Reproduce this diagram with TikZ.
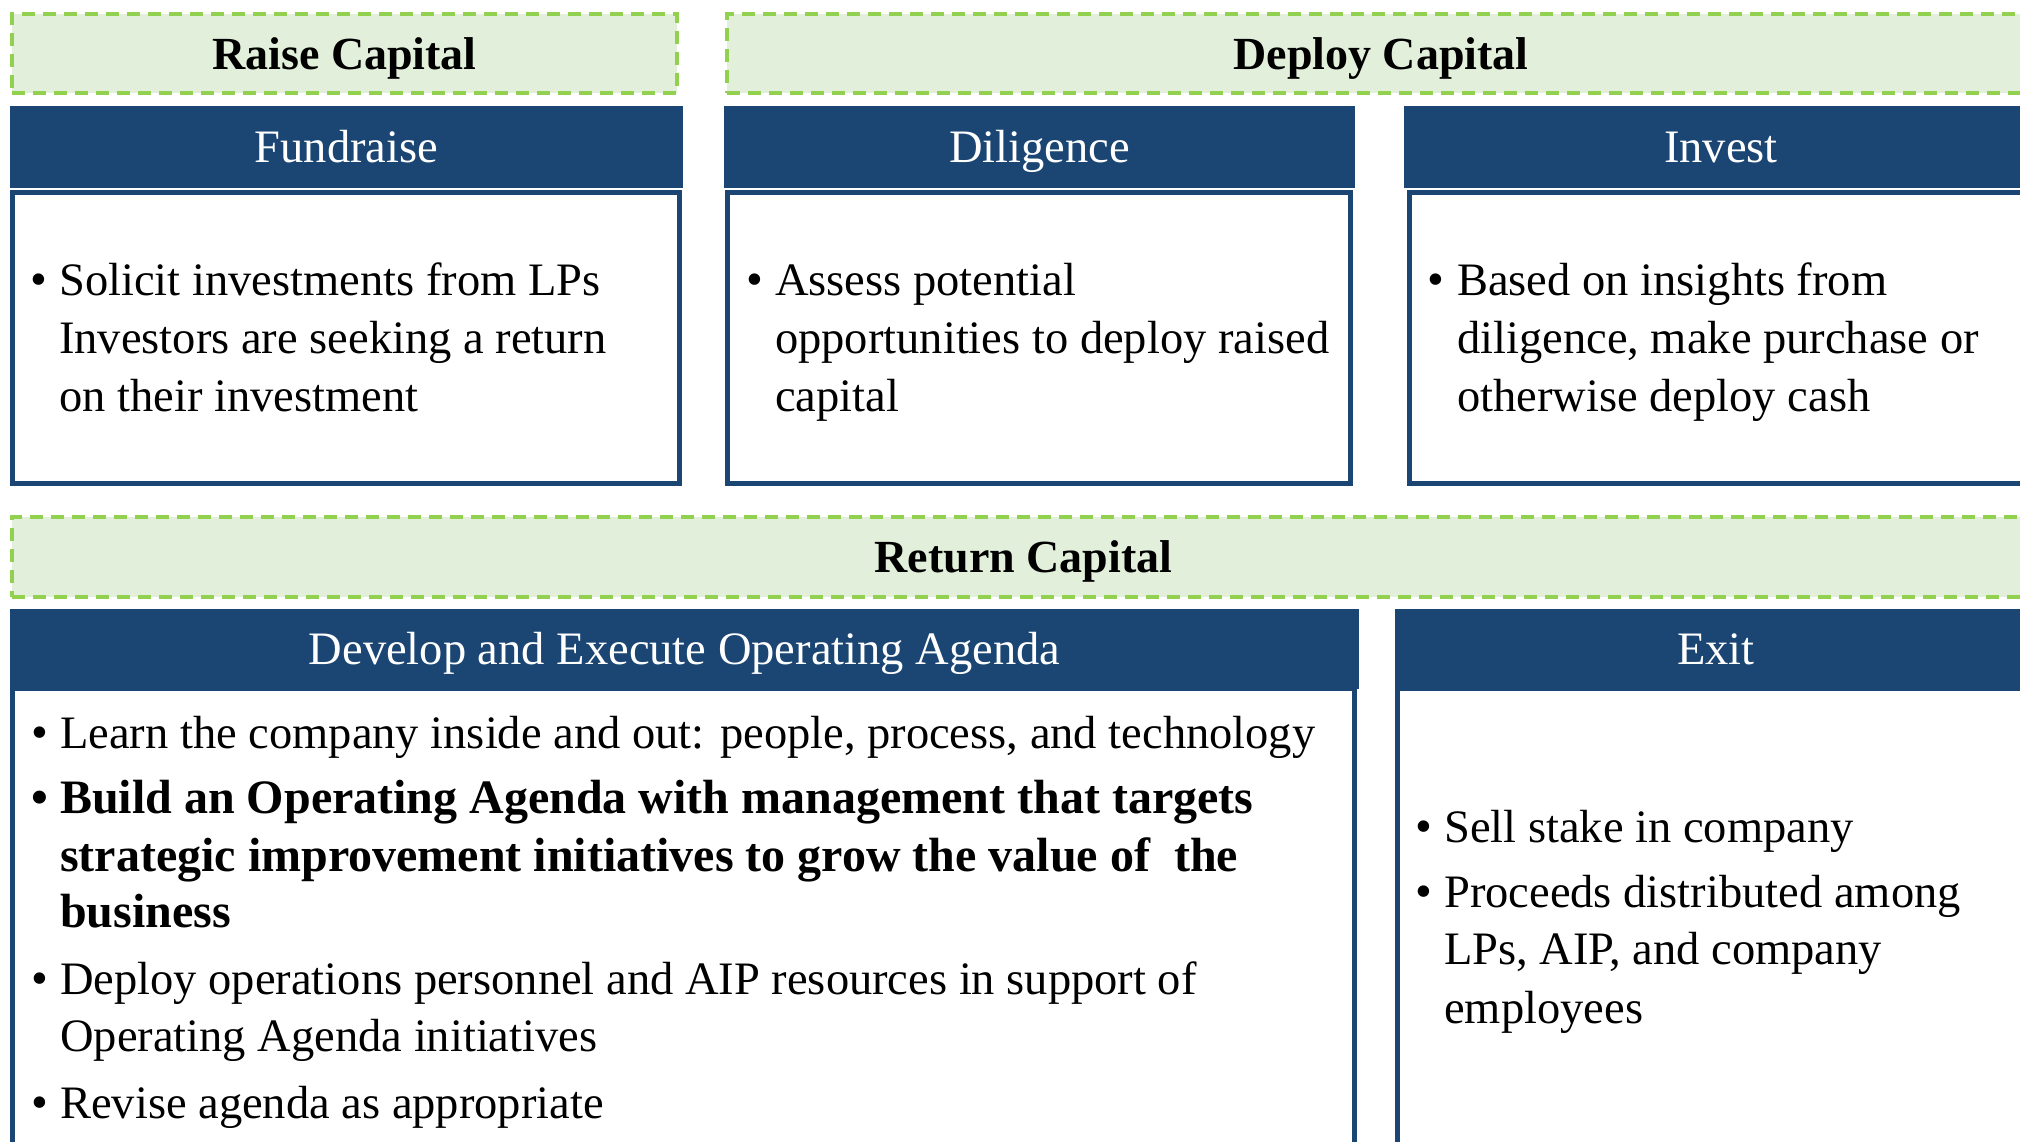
\documentclass[tikz,border=0pt]{standalone}
\usepackage{fontspec}
\setmainfont{Liberation Serif}
\definecolor{navy}{HTML}{1B4674}
\definecolor{leaf}{HTML}{92D050}
\definecolor{mint}{HTML}{E2EFDA}
\newcommand\bodysize{\fontsize{46.5}{58}\selectfont}
\newcommand\strongsize{\fontsize{48}{58}\selectfont}
\tikzset{
  stage/.style={draw=leaf, line width=4pt, dash pattern=on 13pt off 8pt, fill=mint, inner sep=0pt},
  stagetxt/.style={anchor=base, inner sep=0pt, font=\fontsize{46}{58}\selectfont\bfseries},
  headbar/.style={fill=navy, inner sep=0pt},
  hdtxt/.style={anchor=base, inner sep=0pt, text=white, font=\bodysize},
  panel/.style={draw=navy, line width=5pt, fill=white, inner sep=0pt},
  bodytxt/.style={anchor=base west, inner sep=0pt, font=\bodysize},
  boldtxt/.style={bodytxt, font=\strongsize\bfseries},
  bul/.style={anchor=base, inner sep=0pt, font=\fontsize{48}{58}\selectfont},
  boldbul/.style={bul, font=\fontsize{48}{58}\selectfont\bfseries}
}
\begin{document}
\begin{tikzpicture}[x=1pt,y=-1pt]
\useasboundingbox (0,0) rectangle (2020,1141);
\clip (0,0) rectangle (2020,1141);
\fill[white] (0,0) rectangle (2020,1141);

% stage banners
\node[stage, minimum width=665pt, minimum height=79pt] (raise) at (344.5,53) {};
\node[stagetxt] (raiset) at (344.5,69) {Raise Capital};
\node[stage, minimum width=1308pt, minimum height=79pt] (deploy) at (1381,53) {};
\node[stagetxt] (deployt) at (1381,69) {Deploy Capital};
\node[stage, minimum width=2023pt, minimum height=80pt] (return) at (1023.5,557) {};
\node[stagetxt] (returnt) at (1023.5,572) {Return Capital};

% content panels
\node[panel, minimum width=667pt, minimum height=291pt] (fundp) at (346,338) {};
\node[panel, minimum width=623pt, minimum height=291pt] (dilp) at (1039,338) {};
\node[panel, minimum width=628pt, minimum height=291pt] (invp) at (1723.5,338) {};
\node[panel, minimum width=1342pt, minimum height=509pt] (devp) at (683.5,943) {};
\node[panel, minimum width=640pt, minimum height=509pt] (exitp) at (1717.5,943) {};

% step headers
\node[headbar, minimum width=673pt, minimum height=82pt] (fund) at (346.5,147) {};
\node[hdtxt] (fundt) at (346.5,162) {Fundraise};
\node[headbar, minimum width=631pt, minimum height=82pt] (dil) at (1039.5,147) {};
\node[hdtxt] (dilt) at (1039.5,162) {Diligence};
\node[headbar, minimum width=634pt, minimum height=82pt] (inv) at (1721,147) {};
\node[hdtxt] (invt) at (1721,162) {Invest};
\node[headbar, minimum width=1349pt, minimum height=80pt] (dev) at (684.5,649) {};
\node[hdtxt] (devt) at (684.5,664) {Develop and Execute Operating Agenda};
\node[headbar, minimum width=642pt, minimum height=80pt] (exit) at (1716,649) {};
\node[hdtxt] (exitt) at (1716,664) {Exit};

% Fundraise
\node[bul] (fb1) at (39,295) {•};
\node[bodytxt] (fl1) at (59,295) {Solicit investments from LPs};
\node[bodytxt] (fl2) at (59,353) {Investors are seeking a return};
\node[bodytxt] (fl3) at (59,411) {on their investment};

% Diligence
\node[bul] (db1) at (755,295) {•};
\node[bodytxt] (dl1) at (775,295) {Assess potential};
\node[bodytxt] (dl2) at (775,353) {opportunities to deploy raised};
\node[bodytxt] (dl3) at (775,411) {capital};

% Invest
\node[bul] (ib1) at (1436,295) {•};
\node[bodytxt] (il1) at (1457,295) {Based on insights from};
\node[bodytxt] (il2) at (1457,353) {diligence, make purchase or};
\node[bodytxt] (il3) at (1457,411) {otherwise deploy cash};

% Develop and Execute Operating Agenda
\node[bul] (vb1) at (40,748) {•};
\node[bodytxt] (vl1) at (60,748) {Learn the company inside and out: people, process, and technology};
\node[boldbul] (vb2) at (40,813) {•};
\node[boldtxt] (vl2) at (60,813) {Build an Operating Agenda with management that targets};
\node[boldtxt] (vl3) at (60,871) {strategic improvement initiatives to grow the value of \ the};
\node[boldtxt] (vl4) at (60,927) {business};
\node[bul] (vb3) at (40,994) {•};
\node[bodytxt] (vl5) at (60,994) {Deploy operations personnel and AIP resources in support of};
\node[bodytxt] (vl6) at (60,1051) {Operating Agenda initiatives};
\node[bul] (vb4) at (40,1118) {•};
\node[bodytxt] (vl7) at (60,1118) {Revise agenda as appropriate};

% Exit
\node[bul] (xb1) at (1424,842) {•};
\node[bodytxt] (xl1) at (1444,842) {Sell stake in company};
\node[bul] (xb2) at (1424,907) {•};
\node[bodytxt] (xl2) at (1444,907) {Proceeds distributed among};
\node[bodytxt] (xl3) at (1444,964) {LPs, AIP, and company};
\node[bodytxt] (xl4) at (1444,1023) {employees};
\end{tikzpicture}
\end{document}
